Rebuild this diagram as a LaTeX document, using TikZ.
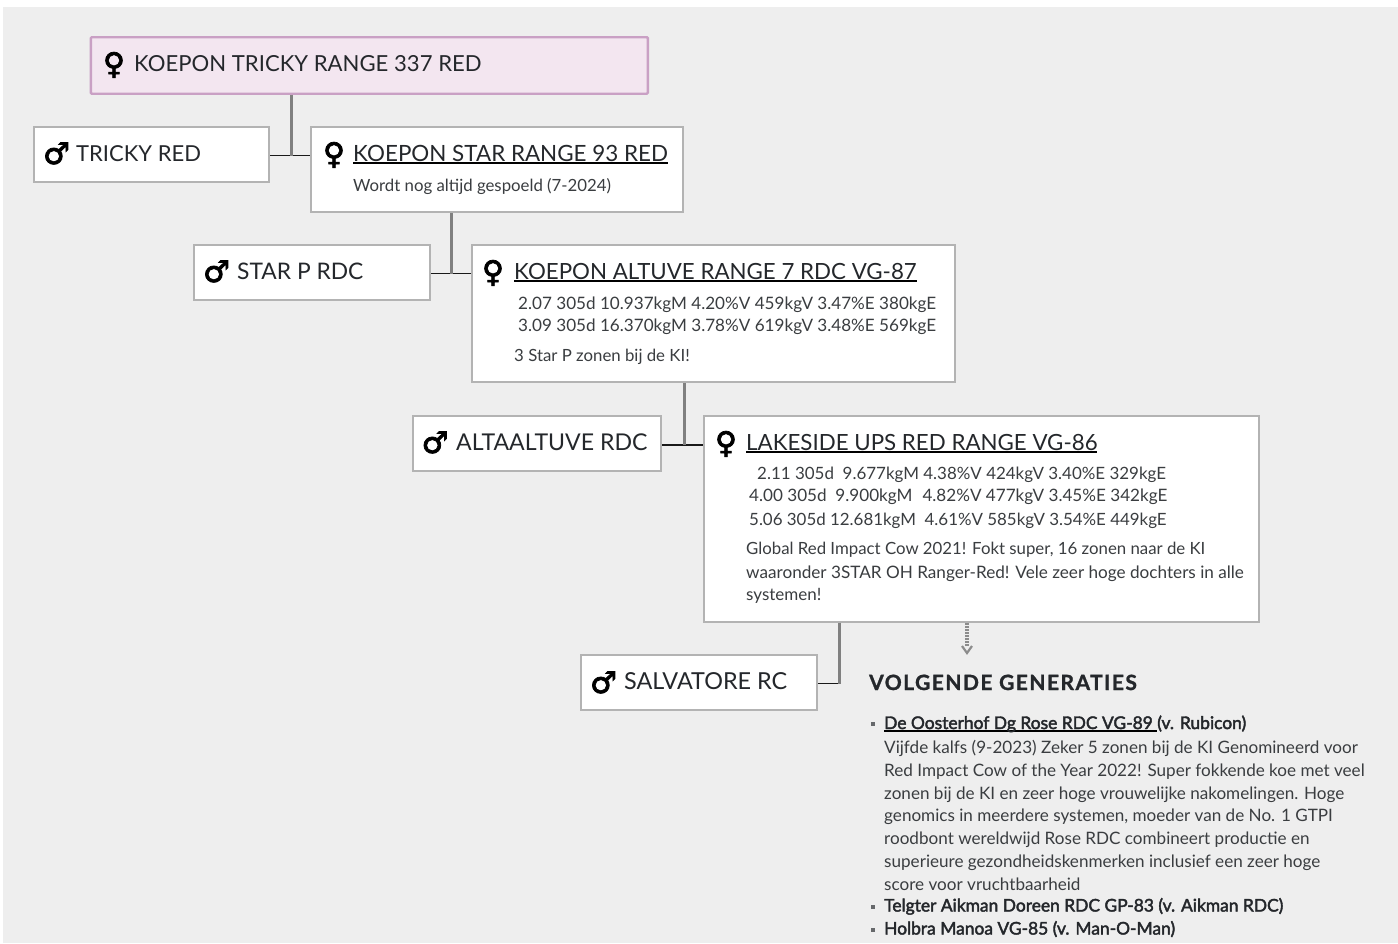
\documentclass[tikz,border=0pt]{standalone}
\usepackage{fontspec}
\setmainfont{Lato}
\newfontfamily\symfont[FakeBold=2.5]{DejaVu Sans}
\newfontfamily\heavyfont[FakeBold=2.4]{Lato}
\newfontfamily\headfont[FakeBold=1.2,LetterSpace=7]{Lato Bold}
\usetikzlibrary{arrows.meta}
\definecolor{panel}{HTML}{EEEEEE}
\definecolor{ink}{HTML}{24272B}
\definecolor{boxline}{HTML}{B3B3B3}
\definecolor{rootline}{HTML}{C9A0C4}
\definecolor{rootfill}{HTML}{F3E6F0}
\tikzset{
  x=1pt,y=-1pt,
  horsebox/.style={draw=boxline,line width=2pt,fill=white,inner sep=0pt,anchor=north west},
  rootbox/.style={draw=rootline,line width=2.4pt,fill=rootfill,rounded corners=1pt,inner sep=0pt,anchor=north west},
  name text/.style={anchor=base west,inner sep=0pt,text=ink,font=\fontsize{#1}{24}\selectfont},
  small text/.style={anchor=base west,inner sep=0pt,text=ink!90,font=\fontsize{#1}{22}\selectfont},
  small text/.default=17,
  body text/.style={anchor=base west,inner sep=0pt,text=ink!90,font=\fontsize{17.1}{22}\selectfont},
  bold text/.style={anchor=base west,inner sep=0pt,text=ink,font=\fontsize{17.4}{22}\heavyfont},
  sym text/.style={anchor=base,inner sep=0pt,text=black,font=\fontsize{30}{30}\symfont},
  tie/.style={draw=black!90,line width=1.8pt},
  drop/.style={draw=black!50,line width=3pt},
}
\newcommand{\ul}[2][1.6pt]{\setbox0\hbox{#2}\rlap{\color{black}\rule[-2.8pt]{\wd0}{#1}}\box0}
\begin{document}
\begin{tikzpicture}
\useasboundingbox (0,0) rectangle (1398,943);
\fill[panel] (3,7) rectangle (1398,943);
% boxes
\node[rootbox,minimum width=557pt,minimum height=56.5pt] (root) at (89.6,36) {};
\node[horsebox,minimum width=235.6pt,minimum height=55pt] (tricky) at (32.6,126.3) {};
\node[horsebox,minimum width=372pt,minimum height=85pt] (star) at (310,126.3) {};
\node[horsebox,minimum width=236pt,minimum height=55pt] (starp) at (193,244.3) {};
\node[horsebox,minimum width=483pt,minimum height=136.7pt] (altuve) at (470.7,244.3) {};
\node[horsebox,minimum width=248.4pt,minimum height=55pt] (altaal) at (411.7,415.3) {};
\node[horsebox,minimum width=555pt,minimum height=205.4pt] (lakeside) at (702.9,415.3) {};
\node[horsebox,minimum width=236pt,minimum height=55pt] (salv) at (580,654.3) {};
% connectors
\coordinate (j1) at (291,155.5);
\coordinate (j2) at (451,273.5);
\coordinate (j3) at (684,445);
\coordinate (j4) at (839,683.5);
\coordinate (arrowend) at (967,653);
\coordinate (arrowstart) at (967,623);
\draw[tie] (tricky.east |- j1) -- (star.west |- j1);
\draw[tie] (starp.east |- j2) -- (altuve.west |- j2);
\draw[tie] (altaal.east |- j3) -- (lakeside.west |- j3);
\draw[tie] (salv.east |- j4) -- (j4);
\draw[drop] (root.south -| j1) -- (j1);
\draw[drop] (star.south -| j2) -- (j2);
\draw[drop] (altuve.south -| j3) -- (j3);
\draw[drop,line cap=butt] (lakeside.south -| j4) -- (j4);
\draw[draw=black!45,line width=3.4pt,dash pattern=on 2pt off 1pt] (arrowstart) -- (967,646);
\draw[draw=black!45,line width=2.2pt] (962,646) -- (arrowend) -- (972,646);
% symbols
\node[sym text] (s1) at (114,74) {♀};
\node[sym text] (s2) at (56.5,164) {♂};
\node[sym text] (s3) at (334,164) {♀};
\node[sym text] (s4) at (216.5,282) {♂};
\node[sym text] (s5) at (493,282) {♀};
\node[sym text] (s6) at (435,453) {♂};
\node[sym text] (s7) at (726,453) {♀};
\node[sym text] (s8) at (603.5,693) {♂};
% names
\node[name text=22.1] (n1) at (134,71) {KOEPON TRICKY RANGE 337 RED};
\node[name text=22.0] (n2) at (76,161) {TRICKY RED};
\node[name text=22.4] (n3) at (353,161) {\ul{KOEPON STAR RANGE 93 RED}};
\node[name text=22.8] (n4) at (237,279) {STAR P RDC};
\node[name text=22.3] (n5) at (514,279) {\ul{KOEPON ALTUVE RANGE 7 RDC VG-87}};
\node[name text=23.1] (n6) at (456,450) {ALTAALTUVE RDC};
\node[name text=22.3] (n7) at (746,450) {\ul{LAKESIDE UPS RED RANGE VG-86}};
\node[name text=23.4] (n8) at (624,689) {SALVATORE RC};
% details
\node[small text=16.8] (t1) at (353,191) {Wordt nog altijd gespoeld (7-2024)};
\node[small text=17.1] (t2) at (518,309) {2.07 305d 10.937kgM 4.20\%V 459kgV 3.47\%E 380kgE};
\node[small text=17.1] (t3) at (518,331) {3.09 305d 16.370kgM 3.78\%V 619kgV 3.48\%E 569kgE};
\node[small text=16.8] (t4) at (514,361) {3 Star P zonen bij de KI!};
\node[small text=16.95] (t5) at (757,479) {2.11 305d \ 9.677kgM 4.38\%V 424kgV 3.40\%E 329kgE};
\node[small text=17.1] (t6) at (749,501) {4.00 305d \ 9.900kgM\,\, 4.82\%V 477kgV 3.45\%E 342kgE};
\node[small text=16.9] (t7) at (749,525) {5.06 305d 12.681kgM \ 4.61\%V 585kgV 3.54\%E 449kgE};
\node[small text=16.8] (t8) at (746,554) {Global Red Impact Cow 2021! Fokt super, 16 zonen naar de KI};
\node[small text=17.15] (t9) at (746,578) {waaronder 3STAR OH Ranger-Red! Vele zeer hoge dochters in alle};
\node[small text=17] (t10) at (746,600) {systemen!};
% next generations
\node[anchor=base west,inner sep=0pt,text=ink,font=\fontsize{21}{24}\headfont] (h1) at (869,690) {VOLGENDE GENERATIES};
\node[bold text] (b1) at (884,729) {\ul[1.4pt]{De Oosterhof Dg Rose RDC VG-89 }(v. Rubicon)};
\node[body text] (l1) at (884,753.5) {Vijfde kalfs (9-2023) Zeker 5 zonen bij de KI Genomineerd voor};
\node[body text] (l2) at (884,776.5) {Red Impact Cow of the Year 2022! Super fokkende koe met veel};
\node[body text] (l3) at (884,799.5) {zonen bij de KI en zeer hoge vrouwelijke nakomelingen. Hoge};
\node[body text] (l4) at (884,821.5) {genomics in meerdere systemen, moeder van de No. 1 GTPI};
\node[body text] (l5) at (884,844.5) {roodbont wereldwijd Rose RDC combineert productie en};
\node[body text] (l6) at (884,867.5) {superieure gezondheidskenmerken inclusief een zeer hoge};
\node[body text] (l7) at (884,890.5) {score voor vruchtbaarheid};
\node[bold text] (b2) at (884,911.5) {Telgter Aikman Doreen RDC GP-83 (v. Aikman RDC)};
\node[bold text] (b3) at (884,934.5) {Holbra Manoa VG-85 (v. Man-O-Man)};
\fill[ink!70] (870.5,722) rectangle (874.5,726);
\fill[ink!70] (870.5,905) rectangle (874.5,909);
\fill[ink!70] (870.5,928) rectangle (874.5,932);
\end{tikzpicture}
\end{document}
